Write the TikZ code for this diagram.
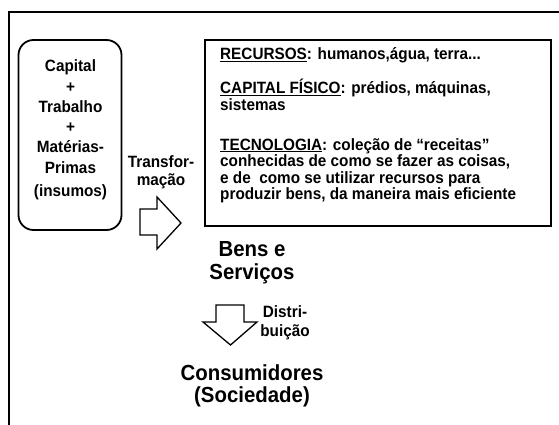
\documentclass[tikz,border=0pt]{standalone}
\usepackage{fontspec}
\setmainfont{Liberation Sans}
\newcommand{\undl}[1]{\setbox0\hbox{#1}\rlap{\rule[-2.3pt]{\wd0}{1.3pt}}\box0}
\begin{document}
\begin{tikzpicture}[x=1pt,y=-1pt,
  txt/.style={font=\fontsize{15.3}{18}\selectfont\bfseries, inner sep=0pt, yscale=1.07},
  big/.style={font=\fontsize{20.4}{24}\selectfont\bfseries, inner sep=0pt, yscale=1.07},
  frameline/.style={line width=2pt},
  boxline/.style={draw, line width=1.8pt, inner sep=0pt},
  arrowshape/.style={draw, fill=white, line width=1.3pt, line join=miter}]
\useasboundingbox (0,0) rectangle (559,425);
\fill[white] (0,0) rectangle (559,425);
% outer frame (top and left only)
\coordinate (fa) at (8.5,425);
\coordinate (fb) at (8.5,12.5);
\coordinate (fc) at (559,12.5);
\draw[frameline] (fa) -- (fb) -- (fc);
% input box
\node[boxline, rounded corners=15pt, minimum width=103pt, minimum height=190pt] (inbox) at (70,135) {};
\node[txt, anchor=base] (l1) at (70.5,72) {Capital};
\node[txt, anchor=base] (l2) at (70.5,92.2) {+};
\node[txt, anchor=base] (l3) at (70.5,112.4) {Trabalho};
\node[txt, anchor=base] (l4) at (70.5,132.6) {+};
\node[txt, anchor=base] (l5) at (70.5,152.8) {Matérias-};
\node[txt, anchor=base] (l6) at (70.5,173) {Primas};
\node[txt, anchor=base] (l7) at (70.5,196.5) {(insumos)};
% transformation
\node[txt, anchor=base] (t1) at (161,167) {Transfor-};
\node[txt, anchor=base] (t2) at (161,185) {mação};
\draw[arrowshape] (140,209) -- (157,209) -- (157,197) -- (181,223) -- (157,249) -- (157,235) -- (140,235) -- cycle;
% resources box
\node[boxline, minimum width=346pt, minimum height=186pt] (resbox) at (378,133) {};
\node[txt, anchor=base west] (r1) at (220,60) {\undl{RECURSOS}: humanos,água, terra...};
\node[txt, anchor=base west] (r2) at (220,93.5) {\undl{CAPITAL FÍSICO}: prédios, máquinas,};
\node[txt, anchor=base west] (r3) at (220,110.2) {sistemas};
\node[txt, anchor=base west] (r4) at (220,150) {\undl{TECNOLOGIA}: coleção de “receitas”};
\node[txt, anchor=base west] (r5) at (220,166.5) {conhecidas de como se fazer as coisas,};
\node[txt, anchor=base west] (r6) at (220,183) {e de \ como se utilizar recursos para};
\node[txt, anchor=base west] (r7) at (220,199.5) {produzir bens, da maneira mais eficiente};
% goods
\node[big, anchor=base] (b1) at (252,256.5) {Bens e};
\node[big, anchor=base] (b2) at (252,279.5) {Serviços};
% distribution
\draw[arrowshape] (216,305) -- (244,305) -- (244,322) -- (257,322) -- (230.5,345) -- (203,322) -- (216,322) -- cycle;
\node[txt, anchor=base] (d1) at (285,317.5) {Distri-};
\node[txt, anchor=base] (d2) at (285,336) {buição};
% consumers
\node[big, anchor=base] (c1) at (252,380) {Consumidores};
\node[big, anchor=base] (c2) at (252,402.5) {(Sociedade)};
\end{tikzpicture}
\end{document}
